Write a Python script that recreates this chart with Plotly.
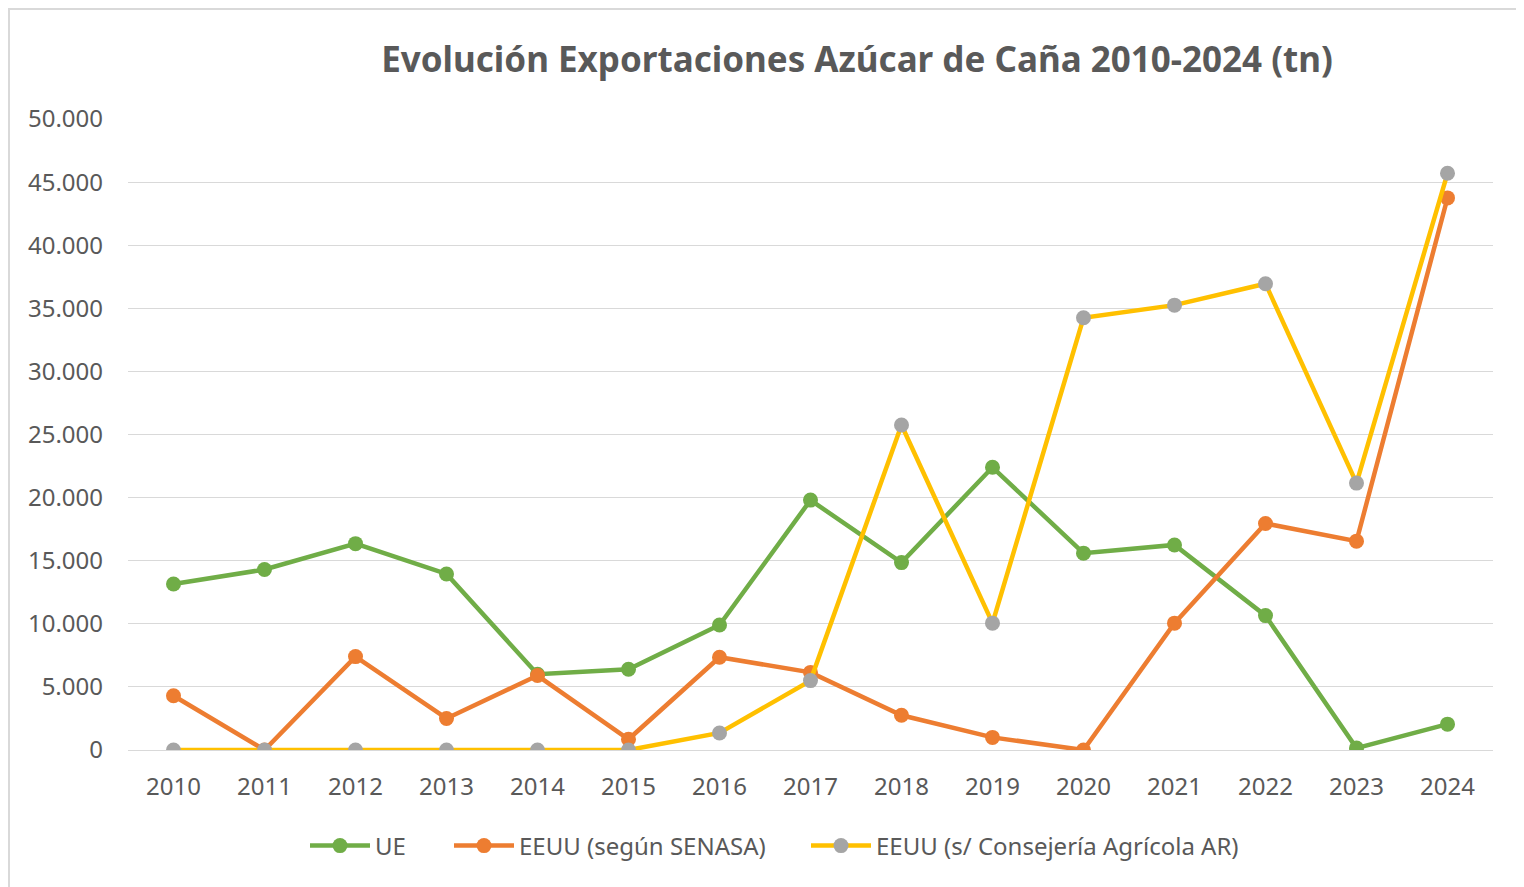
import plotly.graph_objects as go

years = [str(y) for y in range(2010, 2025)]
ue = [13150, 14300, 16350, 13950, 6000, 6400, 9900, 19800, 14850, 22400, 15600, 16250, 10650, 150, 2050]
eeuu_senasa = [4300, 0, 7400, 2500, 5900, 850, 7350, 6150, 2750, 1000, 0, 10050, 17950, 16550, 43750]
eeuu_consejeria = [0, 0, 0, 0, 0, 0, 1350, 5500, 25750, 10050, 34250, 35250, 36950, 21150, 45700]

y_ticks = [0, 5000, 10000, 15000, 20000, 25000, 30000, 35000, 40000, 45000, 50000]

FONT = "Noto Sans"
TXT = "#595959"
LW = 4.5
MS = 15

fig = go.Figure()
fig.add_trace(go.Scatter(x=years, y=ue, name="UE", mode="lines+markers", legend="legend",
                         line=dict(color="#70AD47", width=LW),
                         marker=dict(color="#70AD47", size=MS)))
fig.add_trace(go.Scatter(x=years, y=eeuu_senasa, name="EEUU (según SENASA)", mode="lines+markers",
                         legend="legend2",
                         line=dict(color="#ED7D31", width=LW),
                         marker=dict(color="#ED7D31", size=MS)))
fig.add_trace(go.Scatter(x=years, y=eeuu_consejeria, name="EEUU (s/ Consejería Agrícola AR)",
                         mode="lines+markers", legend="legend3",
                         line=dict(color="#FFC000", width=LW),
                         marker=dict(color="#A5A5A5", size=MS)))

PL, PR, PT, PB = 128, 1493, 119, 750  # plot area in screen pixels
OFF = 8  # page body offset
PW = PR - PL
PH = PB - PT


def px(x):
    return (x - PL) / PW


def py(y):
    return (PB - y) / PH


leg_common = dict(orientation="h", xanchor="left", yanchor="middle", itemwidth=60,
                  font=dict(family=FONT, size=24, color=TXT), bgcolor="rgba(0,0,0,0)")

W = 1524 - OFF
H = 887 - OFF

fig.update_layout(
    width=W, height=H,
    paper_bgcolor="white", plot_bgcolor="white",
    separators=",.",
    margin=dict(l=PL - OFF, r=W - (PR - OFF), t=PT - OFF, b=H - (PB - OFF)),
    title=dict(text="<b>Evolución Exportaciones Azúcar de Caña 2010-2024 (tn)</b>",
               x=(857 - OFF) / W, xanchor="center", y=1 - (60 - OFF) / H, yanchor="middle",
               font=dict(family=FONT, size=35, color=TXT)),
    font=dict(family=FONT, size=24, color=TXT),
    showlegend=True,
    legend=dict(x=px(305), y=py(846), **leg_common),
    legend2=dict(x=px(449), y=py(846), **leg_common),
    legend3=dict(x=px(806), y=py(846), **leg_common),
    xaxis=dict(type="category", range=[-0.5, 14.5], showgrid=False, showline=False,
               zeroline=False, ticks="",
               tickfont=dict(family=FONT, size=24, color=TXT), ticklabelstandoff=20),
    yaxis=dict(range=[0, 50000], tickvals=y_ticks, tickformat=",d",
               showgrid=True, gridcolor="#D9D9D9", gridwidth=1,
               zeroline=True, zerolinecolor="#D9D9D9", zerolinewidth=1,
               showline=False, ticks="",
               tickfont=dict(family=FONT, size=24, color=TXT), ticklabelstandoff=24),
    shapes=[dict(type="rect", xref="paper", yref="paper",
                 x0=px(9), x1=px(1540), y0=py(900), y1=py(9),
                 line=dict(color="#D9D9D9", width=2), fillcolor="rgba(0,0,0,0)", layer="below")],
)

fig.write_html("out.html")
